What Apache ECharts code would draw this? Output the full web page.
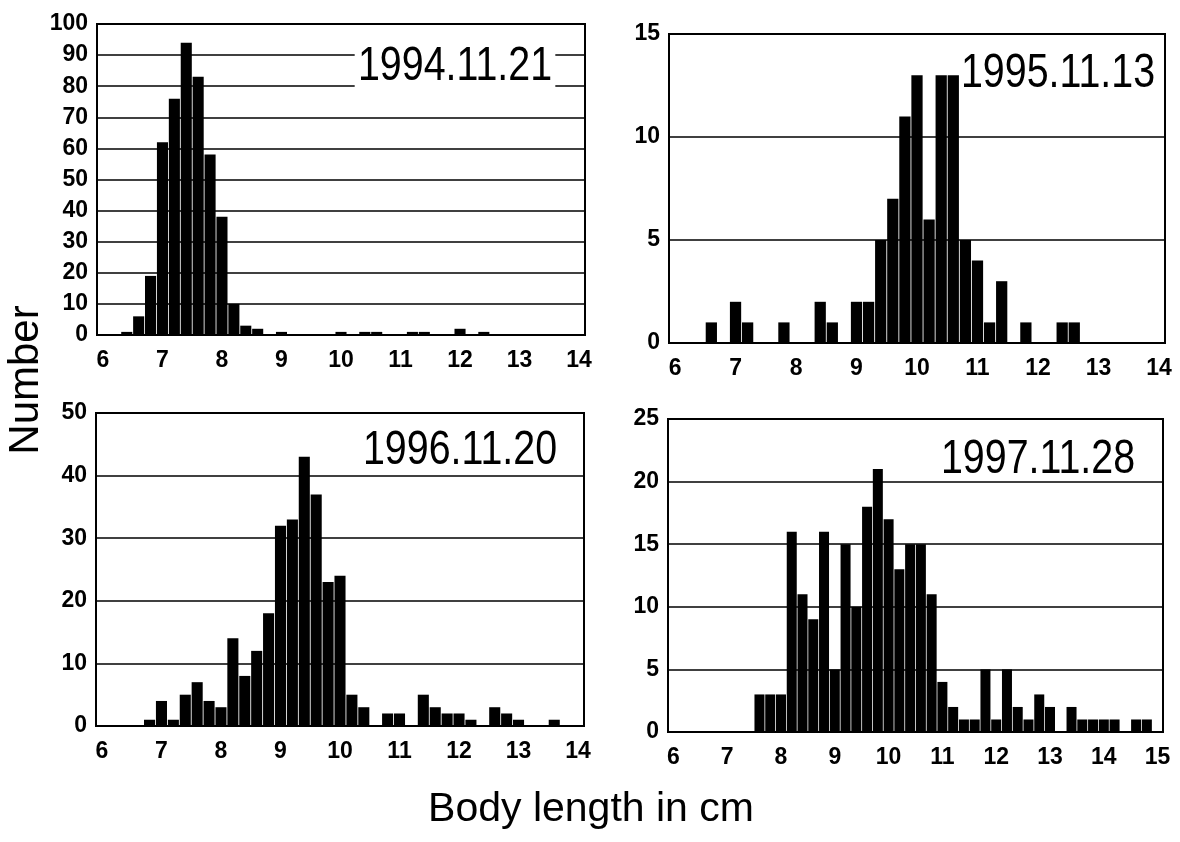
<!DOCTYPE html>
<html>
<head>
<meta charset="utf-8">
<script src="https://cdn.jsdelivr.net/npm/echarts@6/dist/echarts.min.js"></script>
<style>
  html, body { margin: 0; padding: 0; background: #fff; }
  #main { width: 1180px; height: 842px; }
</style>
</head>
<body>
<div id="main"></div>
<script>
// body length bins (cm), 0.2 cm wide
var bins14 = ['6.0','6.2','6.4','6.6','6.8','7.0','7.2','7.4','7.6','7.8','8.0','8.2','8.4','8.6','8.8',
  '9.0','9.2','9.4','9.6','9.8','10.0','10.2','10.4','10.6','10.8','11.0','11.2','11.4','11.6','11.8',
  '12.0','12.2','12.4','12.6','12.8','13.0','13.2','13.4','13.6','13.8','14.0'];
var bins15 = ['6.0','6.2','6.4','6.6','6.8','7.0','7.2','7.4','7.6','7.8','8.0','8.2','8.4','8.6','8.8',
  '9.0','9.2','9.4','9.6','9.8','10.0','10.2','10.4','10.6','10.8','11.0','11.2','11.4','11.6','11.8',
  '12.0','12.2','12.4','12.6','12.8','13.0','13.2','13.4','13.6','13.8','14.0','14.2','14.4','14.6','14.8','15.0'];

var n1994 = [0,0,1,6,19,62,76,94,83,58,38,10,3,2,0,1,0,0,0,0,1,0,1,1,0,0,1,1,0,0,2,0,1,0,0,0,0,0,0,0,0];
var n1995 = [0,0,0,1,0,2,1,0,0,1,0,0,2,1,0,2,2,5,7,11,13,6,13,13,5,4,1,3,0,1,0,0,1,1,0,0,0,0,0,0,0];
var n1996 = [0,0,0,0,1,4,1,5,7,4,3,14,8,12,18,32,33,43,37,23,24,5,3,0,2,2,0,5,3,2,2,1,0,3,2,1,0,0,1,0,0];
var n1997 = [0,0,0,0,0,0,0,0,3,3,3,16,11,9,16,5,15,10,18,21,17,13,15,15,11,4,2,1,1,5,1,5,2,1,3,2,0,2,1,1,1,1,0,1,1,0];

var dates = ['1994.11.21', '1995.11.13', '1996.11.20', '1997.11.28'];
var yMax = [100, 15, 50, 25];
var yStep = [10, 5, 10, 5];

var myChart = echarts.init(document.getElementById('main'));

var grids = [
  {left: 97, top: 24, width: 488, height: 311},
  {left: 669, top: 34, width: 496, height: 309},
  {left: 96, top: 413, width: 488, height: 313},
  {left: 668, top: 419, width: 495, height: 313}
];
var cats = [bins14, bins14, bins14, bins15];
var counts = [n1994, n1995, n1996, n1997];

var labelFont = {color: '#000', fontFamily: 'Liberation Sans, Arial, sans-serif', fontWeight: 'bold', fontSize: 23};

// date stamps: Arial squeezed to look like the narrow face of the original
function stamp(txt, x, y, boxed) {
  var st = {text: txt, fontFamily: 'Liberation Sans, Arial, sans-serif', fontSize: 48, fill: '#000',
    align: 'center', verticalAlign: 'middle'};
  if (boxed) { st.backgroundColor = '#fff'; st.padding = [1, 4]; }
  return {type: 'text', x: x, y: y, scaleX: 0.82, z: 100, style: st};
}

var option = {
  animation: false,
  backgroundColor: '#fff',
  grid: grids.map(function (g) {
    return Object.assign({show: true, borderColor: '#000', borderWidth: 2, containLabel: false}, g);
  }),
  xAxis: cats.map(function (c, i) {
    return {
      type: 'category',
      gridIndex: i,
      data: c,
      boundaryGap: true,
      axisTick: {show: false},
      axisLine: {lineStyle: {color: '#000', width: 2}},
      axisLabel: Object.assign({
        interval: 4,
        margin: 14,
        formatter: function (v) { return String(parseFloat(v)); }
      }, labelFont)
    };
  }),
  yAxis: yMax.map(function (m, i) {
    return {
      type: 'value',
      gridIndex: i,
      min: 0,
      max: m,
      interval: yStep[i],
      axisTick: {show: false},
      axisLine: {show: true, lineStyle: {color: '#000', width: 2}},
      splitLine: {lineStyle: {color: '#000', width: 1.5}},
      axisLabel: Object.assign({margin: 9}, labelFont)
    };
  }),
  series: counts.map(function (d, i) {
    return {
      type: 'bar',
      xAxisIndex: i,
      yAxisIndex: i,
      data: d,
      barCategoryGap: '7%',
      itemStyle: {color: '#000'}
    };
  }),
  graphic: [
    stamp(dates[0], 455, 67, true),
    stamp(dates[1], 1058, 74, false),
    stamp(dates[2], 460, 451, false),
    stamp(dates[3], 1038, 460, false),
    {type: 'text', x: 26, y: 380, rotation: Math.PI / 2, z: 100, style: {text: 'Number', fontFamily: 'Liberation Sans, Arial, sans-serif', fontSize: 42, fill: '#000', align: 'center', verticalAlign: 'middle'}},
    {type: 'text', x: 591, y: 810, z: 100, style: {text: 'Body length in cm', fontFamily: 'Liberation Sans, Arial, sans-serif', fontSize: 41, fill: '#000', align: 'center', verticalAlign: 'middle'}}
  ]
};
myChart.setOption(option);
</script>
</body>
</html>
